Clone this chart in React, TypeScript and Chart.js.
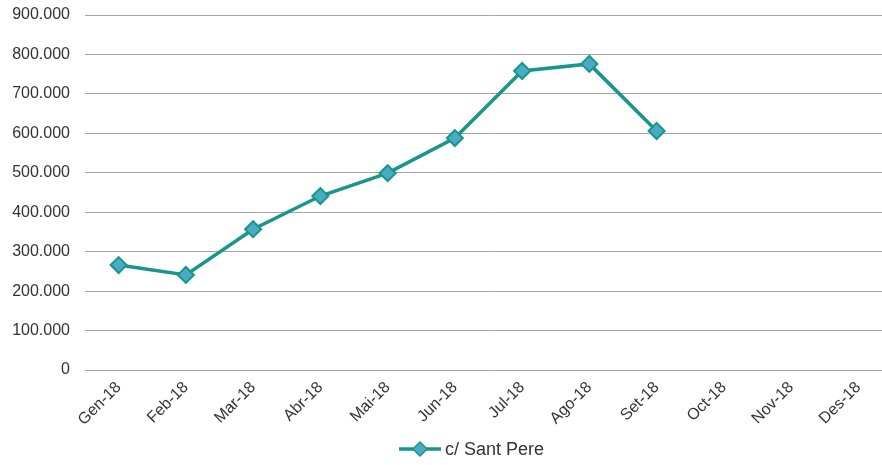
import React, { useEffect, useRef } from "react";
import { Chart, registerables } from "chart.js";

Chart.register(...registerables);

const categories = ["Gen-18", "Feb-18", "Mar-18", "Abr-18", "Mai-18", "Jun-18", "Jul-18", "Ago-18", "Set-18", "Oct-18", "Nov-18", "Des-18"];
const santPere = [266000, 241000, 357000, 441000, 499000, 588000, 758000, 776000, 606000, null, null, null];
const seriesLabel = "c/ Sant Pere";
const yMin = 0;
const yMax = 900000;
const yStep = 100000;

const LINE = "#18968A";
const FILL = "#4AACC4";
const TEXT = "#333333";
const FONT = "'Liberation Sans', Arial, sans-serif";

function fmt(v: number) {
  return String(Math.round(v)).replace(/\B(?=(\d{3})+(?!\d))/g, ".");
}

const legendPlugin = {
  id: "customLegend",
  afterDraw(chart: any) {
    const ctx = chart.ctx;
    const cy = 449;
    const x0 = 399;
    ctx.save();
    ctx.strokeStyle = LINE;
    ctx.lineWidth = 3.5;
    ctx.beginPath();
    ctx.moveTo(x0, cy);
    ctx.lineTo(x0 + 42, cy);
    ctx.stroke();
    const cx = x0 + 21;
    const r = 7;
    ctx.beginPath();
    ctx.moveTo(cx, cy - r);
    ctx.lineTo(cx + r, cy);
    ctx.lineTo(cx, cy + r);
    ctx.lineTo(cx - r, cy);
    ctx.closePath();
    ctx.fillStyle = FILL;
    ctx.fill();
    ctx.lineWidth = 1.5;
    ctx.stroke();
    ctx.fillStyle = TEXT;
    ctx.font = `18px ${FONT}`;
    ctx.textBaseline = "middle";
    ctx.textAlign = "left";
    ctx.fillText(seriesLabel, x0 + 46, cy + 1);
    ctx.restore();
  },
};

export default function App() {
  const ref = useRef<HTMLCanvasElement | null>(null);
  useEffect(() => {
    if (!ref.current) return;
    const chart = new Chart(ref.current, {
      type: "line",
      data: {
        labels: categories,
        datasets: [
          {
            label: seriesLabel,
            data: santPere,
            borderColor: LINE,
            borderWidth: 3.5,
            backgroundColor: FILL,
            pointBackgroundColor: FILL,
            pointBorderColor: LINE,
            pointBorderWidth: 2,
            pointStyle: "rectRot",
            pointRadius: 8,
            tension: 0,
            spanGaps: false,
          },
        ],
      },
      options: {
        responsive: false,
        animation: false,
        layout: { padding: { top: 15, bottom: 25, left: 0, right: 0 } },
        plugins: {
          legend: { display: false },
          tooltip: { enabled: false },
        },
        scales: {
          x: {
            offset: true,
            grid: { display: false, drawTicks: false },
            border: { display: false },
            afterFit: (s: any) => {
              s.height = 70;
            },
            ticks: {
              autoSkip: false,
              minRotation: 45,
              maxRotation: 45,
              padding: 8,
              color: TEXT,
              font: { family: FONT, size: 16 },
            },
          },
          y: {
            min: yMin,
            max: yMax,
            grid: { color: "#a6a6a6", lineWidth: 1, drawTicks: false },
            border: { display: false },
            afterFit: (s: any) => {
              s.width = 85;
              s.paddingTop = 0;
              s.paddingBottom = 0;
            },
            ticks: {
              stepSize: yStep,
              padding: 15,
              color: TEXT,
              font: { family: FONT, size: 16 },
              callback: (v: any) => fmt(Number(v)),
            },
          },
        },
      },
      plugins: [legendPlugin],
    });
    return () => chart.destroy();
  }, []);
  return (
    <div style={{ position: "absolute", left: 0, top: 0, width: 882, height: 465, overflow: "hidden", background: "#fff" }}>
      <canvas ref={ref} width={902} height={465} style={{ display: "block" }} />
    </div>
  );
}
